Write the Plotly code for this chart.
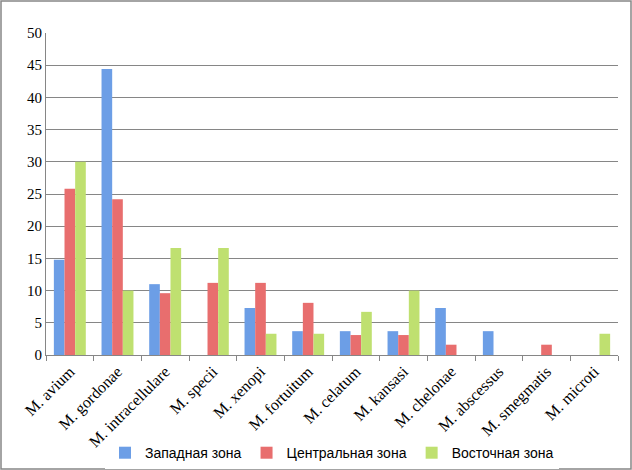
import plotly.graph_objects as go

species = ["M. avium", "M. gordonae", "M. intracellulare", "M. specii", "M. xenopi",
           "M. fortuitum", "M. celatum", "M. kansasi", "M. chelonae", "M. abscessus",
           "M. smegmatis", "M. microti"]
west = [14.8, 44.4, 11.0, 0, 7.3, 3.7, 3.7, 3.7, 7.3, 3.7, 0, 0]
central = [25.8, 24.2, 9.6, 11.2, 11.2, 8.1, 3.1, 3.1, 1.6, 0, 1.6, 0]
east = [30.0, 10.0, 16.6, 16.6, 3.3, 3.3, 6.7, 10.0, 0, 0, 0, 3.3]
zones = ["Западная зона", "Центральная зона", "Восточная зона"]
y_ticks = list(range(0, 55, 5))

colors = ["#6c9ee6", "#e86e6e", "#bfe070"]

W, H = 632, 470
ml, mr, mt, mb = 46, 14, 33, 115

fig = go.Figure()
for name, vals, c in zip(zones, [west, central, east], colors):
    fig.add_trace(go.Bar(x=species, y=vals, name=name,
                         marker=dict(color=c, line=dict(width=0))))

grid = "#868686"
fig.update_layout(
    width=W, height=H,
    margin=dict(l=ml, r=mr, t=mt, b=mb, autoexpand=False),
    paper_bgcolor="white", plot_bgcolor="white",
    barmode="group", bargap=0.33, bargroupgap=0,
    font=dict(family="Liberation Serif", size=15, color="black"),
    legend=dict(orientation="h", x=0.5, xanchor="center", y=-0.255, yanchor="top",
                font=dict(family="Liberation Sans", size=14),
                itemwidth=30, tracegroupgap=0),
    showlegend=True,
)
fig.update_xaxes(type="category", tickangle=-45, tickson="boundaries",
                 ticks="outside", ticklen=5, tickcolor=grid, automargin=False,
                 showline=True, linecolor=grid, linewidth=1,
                 tickfont=dict(family="Liberation Serif", size=16))
fig.update_yaxes(range=[0, 50], tickvals=y_ticks, showgrid=True, gridcolor=grid,
                 gridwidth=1, showline=True, linecolor=grid, zeroline=False,
                 ticks="", ticklen=0, automargin=False,
                 tickfont=dict(family="Liberation Serif", size=15))

# outer frame of the whole chart
pw = W - ml - mr
ph = H - mt - mb
fig.add_shape(type="rect", xref="paper", yref="paper",
              x0=-(ml - 1) / pw, x1=1 + (mr - 1) / pw,
              y0=-(mb - 1) / ph, y1=1 + (mt - 1) / ph,
              line=dict(color="#868686", width=1.5), layer="below")

fig.write_html("out.html", config={"displayModeBar": False},
               post_script="document.body.style.margin='0';document.body.style.overflow='hidden';")
